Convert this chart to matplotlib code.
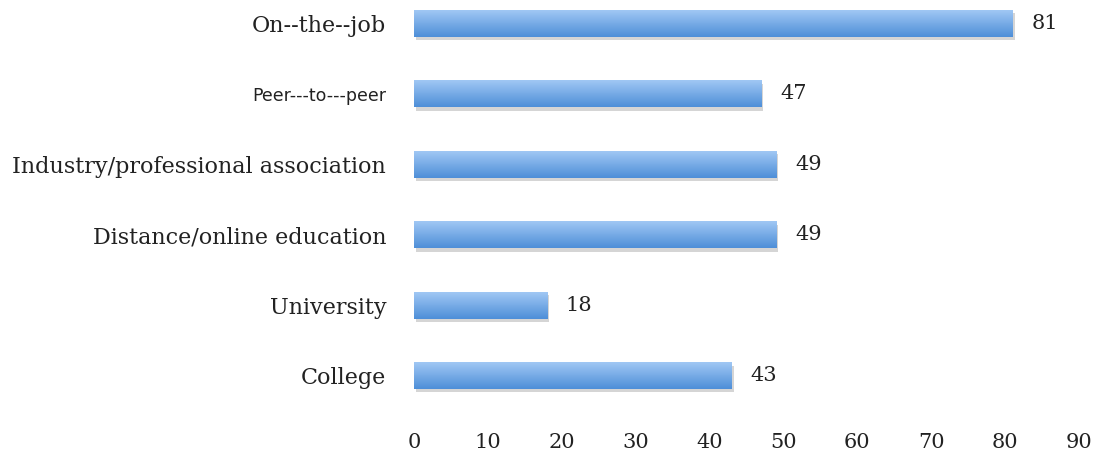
import numpy as np
import matplotlib.pyplot as plt
from matplotlib import patheffects
from matplotlib.colors import LinearSegmentedColormap

# learning settings, bottom to top as drawn
categories = ["College", "University", "Distance/online education",
              "Industry/professional association", "Peer---to---peer", "On--the--job"]
values = [43, 18, 49, 49, 47, 81]
x_ticks = [0, 10, 20, 30, 40, 50, 60, 70, 80, 90]

plt.rcParams["font.family"] = ["DejaVu Serif"]

fig = plt.figure(figsize=(10.95, 4.54), dpi=100)
ax = fig.add_axes([0.378, 0.095, 0.6074, 0.905])

y = np.arange(len(categories))
bars = ax.barh(y, values, height=0.38, color="#6aa2e4", zorder=2,
               path_effects=[patheffects.SimplePatchShadow(offset=(1.5, -2.5), alpha=0.3,
                                                           shadow_rgbFace="#777777"),
                             patheffects.Normal()])

# vertical gradient inside each bar (light on top, darker below)
grad = np.linspace(0, 1, 64).reshape(-1, 1)
cmap = LinearSegmentedColormap.from_list("barblue", ["#a0c7f4", "#4e8fd8"])
for b in bars:
    x0, y0, w, h = b.get_x(), b.get_y(), b.get_width(), b.get_height()
    im = ax.imshow(grad, cmap=cmap, aspect="auto", extent=(x0, x0 + w, y0, y0 + h),
                   origin="upper", zorder=3, interpolation="bicubic")
    im.set_clip_path(b)

for yi, v in zip(y, values):
    ax.annotate(str(v), (v, yi), xytext=(19, 0), textcoords="offset pixels",
                va="center", ha="left", fontsize=15, color="#222222")

ax.set_xlim(0, 90)
ax.set_ylim(-0.5, 5.33)
ax.set_xticks(x_ticks)
ax.set_yticks(y)
ax.set_yticklabels(categories)
for lab in ax.get_yticklabels():
    lab.set_fontsize(16)
    lab.set_color("#222222")
    if lab.get_text().startswith("Peer"):
        lab.set_family(["DejaVu Sans"])
        lab.set_fontsize(12.5)
ax.tick_params(axis="x", labelsize=15, colors="#222222", length=0, pad=16)
ax.tick_params(axis="y", length=0, pad=20)
for s in ax.spines.values():
    s.set_visible(False)

fig.savefig("out.png", dpi=100)
